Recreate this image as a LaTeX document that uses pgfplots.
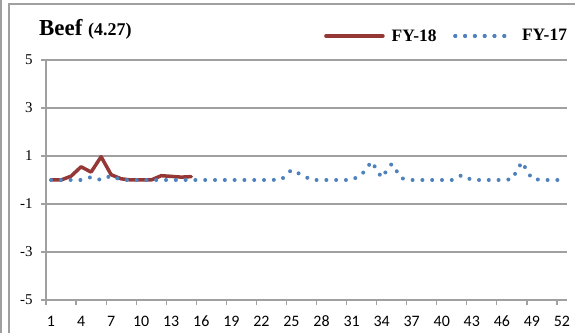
\documentclass[border=0pt]{standalone}
\usepackage{pgfplots}
\pgfplotsset{compat=1.18}
\usepackage{fontspec}
\setmainfont{Liberation Serif}
\newfontfamily\calibri[Numbers=Lining]{Carlito}
\definecolor{fyred}{HTML}{953735}
\definecolor{fyblue}{HTML}{4F81BD}
\definecolor{gridgray}{HTML}{A0A0A0}
\pgfplotsset{
  redleg/.style={legend image code/.code={\draw[##1] (0bp,0bp) -- (57bp,0bp);}},
  blueleg/.style={legend image code/.code={\path (0bp,0bp) -- (57.8bp,0bp);\draw[##1] (0bp,0bp) -- (49.5bp,0bp);}},
}
\pgfplotstableread{
x y
1 0.0
2 0.0
3 0.16
4 0.55
5 0.33
6 0.97
7 0.22
8 0.05
9 0.0
10 0.0
11 0.0
12 0.18
13 0.15
14 0.12
15 0.14
}\fyeighteen
\pgfplotstableread{
x y
1 0
2 0
3 0
4 0
5 0.12
6 0
7 0.18
8 0
9 0
10 0
11 0
12 0
13 0
14 0
15 0
16 0
17 0
18 0
19 0
20 0
21 0
22 0
23 0
24 0.02
25 0.42
26 0.22
27 0
28 0
29 0
30 0
31 0
32 0.22
33 0.77
34 0.10
35 0.67
36 0.07
37 0
38 0
39 0
40 0
41 0
42 0.20
43 0
44 0
45 0
46 0
47 0.03
48 0.75
49 0.05
50 0
51 0
52 0
}\fyseventeen
\begin{document}
\begin{tikzpicture}
\useasboundingbox (0,0) rectangle (575bp,333bp);
\draw[gridgray, line width=1.2bp] (1bp,-5bp) -- (1bp,340bp);
\draw[gridgray, line width=1.5bp] (9bp,-5bp) -- (9bp,329bp) -- (580bp,329bp);
\node[anchor=base west, inner sep=0pt, font=\bfseries\fontsize{23}{23}\selectfont] at (39bp,297bp) {Beef {\fontsize{18}{18}\selectfont(4.27)}};
\begin{axis}[
  scale only axis, width=521bp, height=240bp,
  at={(46bp,33bp)}, anchor=south west,
  xmin=0.5, xmax=52.5, ymin=-5, ymax=5,
  axis x line*=bottom, axis y line*=left,
  axis line style={gridgray, line width=1.2bp},
  xtick={1,4,...,52}, minor xtick={0.5,3.5,...,51.5},
  ytick={-5,-3,...,5}, yticklabels={-5,-3,-1,1,3,5},
  ymajorgrids, grid style={gridgray, line width=1.2bp},
  tick align=outside, major tick length=5bp, minor tick length=5bp,
  major x tick style={draw=none},
  minor x tick style={gridgray, line width=1.2bp},
  major y tick style={gridgray, line width=1.2bp},
  /pgf/number format/assume math mode=true,
  xticklabel style={font=\calibri\fontsize{16}{16}\selectfont, text height=11bp, text depth=0pt, yshift=-7bp},
  yticklabel style={font=\fontsize{15}{15}\selectfont, xshift=-5bp},
  legend columns=2,
  legend style={draw=none, fill=none, at={(0.5336,1.1)}, anchor=west,
    font=\bfseries\fontsize{17.5}{17.5}\selectfont, inner sep=0pt,
    nodes={inner sep=0pt},
    /tikz/every odd column/.append style={column sep=7bp},
    /tikz/every even column/.append style={column sep=16.7bp}},
]
\addplot[color=fyred, line width=3.5bp, line join=round, line cap=round, mark=none, redleg]
  table[x=x,y=y] {\fyeighteen};
\addlegendentry{FY-18}
\addplot[color=fyblue, line width=4bp, line cap=round, dash pattern=on 0bp off 9.8bp, mark=none, blueleg]
  table[x=x,y=y] {\fyseventeen};
\addlegendentry{FY-17}
\end{axis}
\end{tikzpicture}
\end{document}
